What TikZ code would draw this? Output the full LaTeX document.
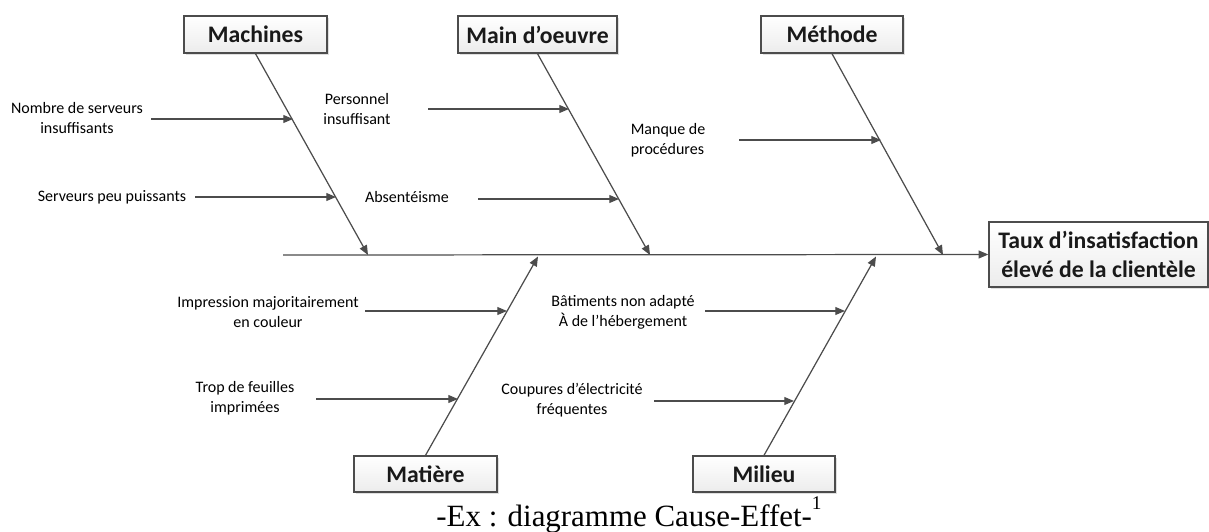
\documentclass[tikz,border=0pt]{standalone}
\usepackage{fontspec}
\setmainfont{Carlito}
\newfontfamily\capfont{Liberation Serif}
\usetikzlibrary{arrows.meta,shadows}
\begin{document}
\begin{tikzpicture}[x=0.02cm,y=-0.02cm,
  catbox/.style={draw=black!70, line width=0.8pt, top color=white, bottom color=gray!15,
    drop shadow={shadow xshift=1.2pt,shadow yshift=-1.2pt,fill=black!25},
    minimum height=0.74cm, inner sep=0pt, text=black!90,
    font=\bfseries\fontsize{13.5}{17}\selectfont},
  lbl/.style={align=center, inner sep=0pt, font=\fontsize{9.1}{11.2}\selectfont, text=black},
  bone/.style={draw=black!70, line width=0.7pt, -{Triangle[length=5.5pt,width=4.5pt]}},
]
\useasboundingbox (0,0) rectangle (1209,531);

% category boxes
\node[catbox, minimum width=2.86cm] (mach) at (255.5,34.5) {Machines};
\node[catbox, minimum width=3.18cm] (main) at (537.5,34.5) {Main d’oeuvre};
\node[catbox, minimum width=2.84cm] (meth) at (832,34.5) {Méthode};
\node[catbox, minimum width=2.86cm, minimum height=0.72cm] (mat) at (425.5,474) {Matière};
\node[catbox, minimum width=2.84cm, minimum height=0.72cm] (mil) at (764,474) {Milieu};
\node[catbox, minimum width=4.38cm, minimum height=1.3cm, align=center] (eff) at (1098.5,254.5) {Taux d’insatisfaction\\élevé de la clientèle};

% spine
\coordinate (tail) at (283,255);
\draw[bone] (tail) -- (eff.west);

% junctions on spine
\coordinate (jmach) at (368,255);
\coordinate (jmain) at (650,255);
\coordinate (jmeth) at (943,255);
\coordinate (jmat) at (538,256.5);
\coordinate (jmil) at (876,256.5);

\draw[bone] (mach.south) -- (jmach);
\draw[bone] (main.south) -- (jmain);
\draw[bone] (meth.south) -- (jmeth);
\draw[bone] (mat.north) -- (jmat);
\draw[bone] (mil.north) -- (jmil);

% cause labels
\node[lbl] (n1) at (77,118) {Nombre de serveurs\\insuffisants};
\node[lbl] (n2) at (112,197) {Serveurs peu puissants};
\node[lbl] (p1) at (357,109) {Personnel\\insuffisant};
\node[lbl] (p2) at (407,197) {Absentéisme};
\node[lbl, align=left] (m1) at (668,140) {Manque de\\procédures};
\node[lbl] (i1) at (268,312) {Impression majoritairement\\en couleur};
\node[lbl] (t1) at (245,398) {Trop de feuilles\\imprimées};
\node[lbl] (b1) at (623,312) {Bâtiments non adapté\\À de l’hébergement};
\node[lbl] (c1) at (572,400) {Coupures d’électricité\\fréquentes};

% cause arrows
\coordinate (a1s) at (151,119); \coordinate (a1e) at (293,119);
\coordinate (a2s) at (195,197); \coordinate (a2e) at (336,197);
\coordinate (a3s) at (428,109); \coordinate (a3e) at (569,109);
\coordinate (a4s) at (478,199); \coordinate (a4e) at (619,199);
\coordinate (a5s) at (739,140); \coordinate (a5e) at (881,140);
\coordinate (a6s) at (365,311); \coordinate (a6e) at (507,311);
\coordinate (a7s) at (316,399); \coordinate (a7e) at (458,399);
\coordinate (a8s) at (705,311); \coordinate (a8e) at (845,311);
\coordinate (a9s) at (654,401); \coordinate (a9e) at (794,401);
\foreach \i in {1,...,9} {\draw[bone] (a\i s) -- (a\i e);}

% caption
\node[anchor=base, inner sep=0pt, font=\capfont\fontsize{17.6}{22}\selectfont] (cap) at (629,526) {-Ex : diagramme Cause-Effet-\raisebox{0.55em}{\fontsize{11}{12}\selectfont 1}};
\end{tikzpicture}
\end{document}
